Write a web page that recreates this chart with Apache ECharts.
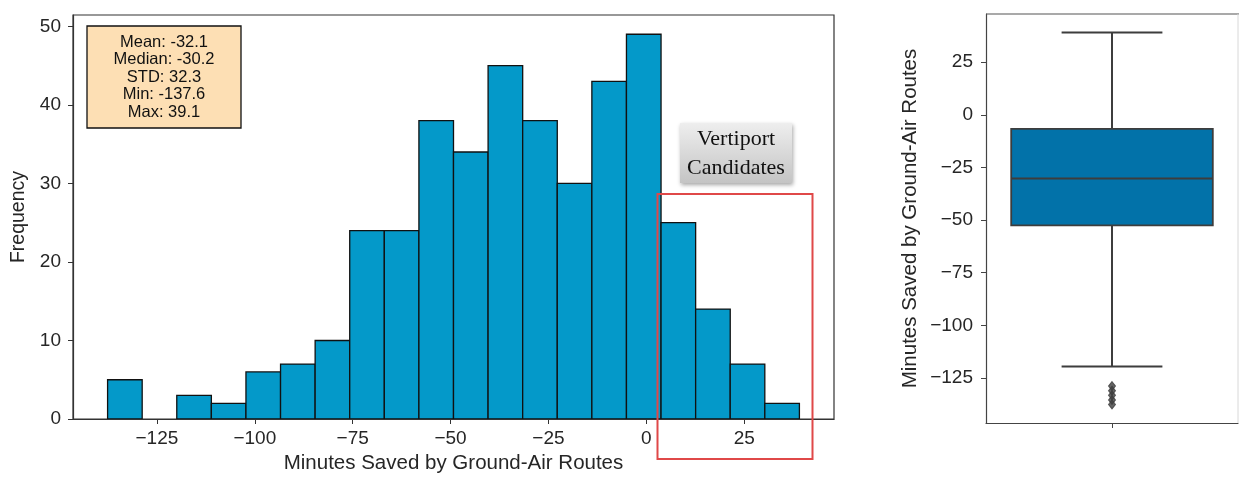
<!DOCTYPE html>
<html>
<head>
<meta charset="utf-8">
<script src="https://cdn.jsdelivr.net/npm/echarts@6/dist/echarts.min.js"></script>
<style>
  html, body { margin: 0; padding: 0; background: #ffffff; }
  #chart { width: 1239px; height: 479px; }
</style>
</head>
<body>
<div id="chart"></div>
<script>
// Summary statistics shown in the legend box
const statLabels = ['Mean', 'Median', 'STD', 'Min', 'Max'];
const statValues = [-32.1, -30.2, 32.3, -137.6, 39.1];

// Histogram counts, 20 equal-width bins between Min and Max
const binCounts = [5, 0, 3, 2, 6, 7, 10, 24, 24, 38, 34, 45, 38, 30, 43, 49, 25, 14, 7, 2];
const histXTicks = [-125, -100, -75, -50, -25, 0, 25];
const histYTicks = [0, 10, 20, 30, 40, 50];

// Box plot: [lower whisker, Q1, median, Q3, upper whisker] and outliers
const boxSummary = [-119.6, -52.5, -30.2, -6.7, 39.1];
const boxOutliers = [-128.9, -131.1, -133.3, -135.5, -137.6];
const boxYTicks = [-125, -100, -75, -50, -25, 0, 25];

const FONT = "'Liberation Sans', Arial, Helvetica, sans-serif";
const SERIF = "'Liberation Serif', 'Times New Roman', serif";
const minus = v => String(v).replace('-', '\u2212');

const dMin = statValues[3];
const dMax = statValues[4];
const binW = (dMax - dMin) / binCounts.length;
const bins = binCounts.map((c, i) => [dMin + i * binW, dMin + (i + 1) * binW, c]);
const pad = (dMax - dMin) * 0.05;
const valMin = dMin - pad;
const valMax = dMax + pad;
const countMax = Math.max(...binCounts) * 1.05;

const tickLabel = { fontFamily: FONT, fontSize: 19, color: '#262626' };

const chart = echarts.init(document.getElementById('chart'), null, { renderer: 'canvas' });

chart.setOption({
  animation: false,
  backgroundColor: '#ffffff',
  grid: [
    { left: 73, top: 15, width: 761, height: 407, show: true, borderColor: '#333333', borderWidth: 1.2, backgroundColor: 'transparent' },
    { left: 986, top: 14, width: 252, height: 409, show: false }
  ],
  xAxis: [
    {
      gridIndex: 0, type: 'value', min: valMin, max: valMax,
      axisLine: { show: true, onZero: false, lineStyle: { color: '#333333', width: 1.2 } },
      axisTick: { show: true, length: 5, customValues: histXTicks, lineStyle: { color: '#333333' } },
      axisLabel: Object.assign({ customValues: histXTicks, margin: 10, formatter: minus }, tickLabel),
      splitLine: { show: false },
      name: 'Minutes Saved by Ground-Air Routes', nameLocation: 'middle', nameGap: 34,
      nameTextStyle: { fontFamily: FONT, fontSize: 20.5, color: '#262626' }
    },
    {
      gridIndex: 1, type: 'value', min: -0.5, max: 0.5,
      axisLine: { show: true, onZero: false, lineStyle: { color: '#444444', width: 1.2 } },
      axisTick: { show: true, length: 5, customValues: [0], lineStyle: { color: '#444444' } },
      axisLabel: { show: false },
      splitLine: { show: false }
    }
  ],
  yAxis: [
    {
      gridIndex: 0, type: 'value', min: 0, max: countMax,
      axisLine: { show: true, onZero: false, lineStyle: { color: '#333333', width: 1.2 } },
      axisTick: { show: true, length: 5, customValues: histYTicks, lineStyle: { color: '#333333' } },
      axisLabel: Object.assign({ customValues: histYTicks, margin: 12 }, tickLabel),
      splitLine: { show: false },
      name: 'Frequency', nameLocation: 'middle', nameGap: 44,
      nameTextStyle: { fontFamily: FONT, fontSize: 19.5, color: '#262626' }
    },
    {
      gridIndex: 1, type: 'value', min: valMin, max: valMax,
      axisLine: { show: true, onZero: false, lineStyle: { color: '#444444', width: 1.2 } },
      axisTick: { show: true, length: 5, customValues: boxYTicks, lineStyle: { color: '#444444' } },
      axisLabel: Object.assign({ customValues: boxYTicks, margin: 13, formatter: minus }, tickLabel),
      splitLine: { show: false },
      name: 'Minutes Saved by Ground-Air Routes', nameLocation: 'middle', nameGap: 65,
      nameTextStyle: { fontFamily: FONT, fontSize: 20.5, color: '#262626' }
    }
  ],
  series: [
    {
      type: 'custom', xAxisIndex: 0, yAxisIndex: 0, data: bins, clip: true,
      renderItem: (params, api) => {
        const p0 = api.coord([api.value(0), api.value(2)]);
        const p1 = api.coord([api.value(1), 0]);
        if (api.value(2) === 0) return null;
        return {
          type: 'rect',
          shape: { x: p0[0], y: p0[1], width: p1[0] - p0[0], height: p1[1] - p0[1] },
          style: { fill: '#0499c9', stroke: '#111111', lineWidth: 1.3 }
        };
      }
    },
    {
      type: 'custom', xAxisIndex: 1, yAxisIndex: 1, data: [[0].concat(boxSummary)],
      renderItem: (params, api) => {
        const x = api.value(0);
        const lo = api.value(1), q1 = api.value(2), med = api.value(3), q3 = api.value(4), hi = api.value(5);
        const half = 0.4, cap = 0.2;
        const b0 = api.coord([x - half, q3]);
        const b1 = api.coord([x + half, q1]);
        const line = (xa, ya, xb, yb) => {
          const a = api.coord([xa, ya]), b = api.coord([xb, yb]);
          return { type: 'line', shape: { x1: a[0], y1: a[1], x2: b[0], y2: b[1] }, style: { stroke: '#3d3d3d', lineWidth: 2 } };
        };
        return {
          type: 'group',
          children: [
            line(x, q3, x, hi),
            line(x, q1, x, lo),
            line(x - cap, hi, x + cap, hi),
            line(x - cap, lo, x + cap, lo),
            {
              type: 'rect',
              shape: { x: b0[0], y: b0[1], width: b1[0] - b0[0], height: b1[1] - b0[1] },
              style: { fill: '#0272a9', stroke: '#3d3d3d', lineWidth: 1.8 }
            },
            line(x - half, med, x + half, med)
          ]
        };
      }
    },
    {
      type: 'scatter', xAxisIndex: 1, yAxisIndex: 1,
      data: boxOutliers.map(v => [0, v]),
      symbol: 'diamond', symbolSize: [7, 9],
      itemStyle: { color: '#3d3d3d', borderColor: '#3d3d3d', borderWidth: 1 }
    }
  ],
  graphic: [
    // frame of the box plot panel (top and faint right edge)
    { type: 'line', shape: { x1: 986, y1: 14, x2: 1239, y2: 14 }, style: { stroke: '#555555', lineWidth: 1.2 }, z: 10 },
    { type: 'line', shape: { x1: 1238, y1: 14, x2: 1238, y2: 423 }, style: { stroke: '#d8d8d8', lineWidth: 1 }, z: 10 },
    // summary statistics box
    {
      type: 'group', z: 20,
      children: [
        { type: 'rect', shape: { x: 87, y: 26, width: 154, height: 102 }, style: { fill: '#fddfb4', stroke: '#111111', lineWidth: 1.3 } },
        {
          type: 'text', x: 164, y: 77,
          style: {
            text: statLabels.map((l, i) => l + ': ' + statValues[i]).join('\n'),
            font: '16.5px ' + FONT, fill: '#111111', align: 'center', verticalAlign: 'middle', lineHeight: 17.5
          }
        }
      ]
    },
    // highlight of the candidate region
    { type: 'rect', z: 15, shape: { x: 657.5, y: 194, width: 155, height: 265 }, style: { fill: 'none', stroke: '#e04848', lineWidth: 2 } },
    {
      type: 'group', z: 20,
      children: [
        {
          type: 'rect', shape: { x: 680, y: 123, width: 112, height: 60 },
          style: {
            fill: new echarts.graphic.LinearGradient(0, 0, 0, 1, [
              { offset: 0, color: '#eeeeee' }, { offset: 1, color: '#c4c4c4' }
            ]),
            shadowBlur: 4, shadowColor: 'rgba(0,0,0,0.35)', shadowOffsetX: 1, shadowOffsetY: 2
          }
        },
        {
          type: 'text', x: 736, y: 154,
          style: { text: 'Vertiport\nCandidates', font: '22px ' + SERIF, fill: '#111111', align: 'center', verticalAlign: 'middle', lineHeight: 29 }
        }
      ]
    }
  ]
});
</script>
</body>
</html>
